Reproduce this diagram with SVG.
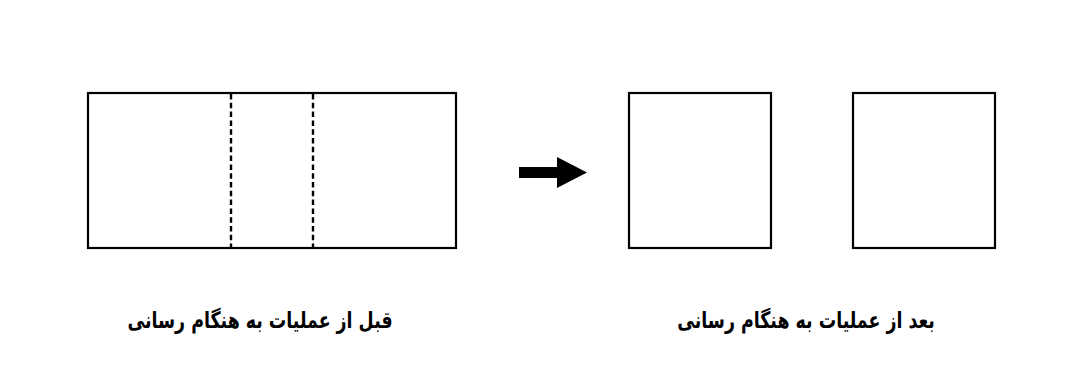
<svg xmlns="http://www.w3.org/2000/svg" width="1086" height="391" viewBox="0 0 1086 391">
<style>
.box{fill:none;stroke:#000;stroke-width:2.2}
.dash{stroke:#000;stroke-width:2.4;stroke-dasharray:5.5,3.3}
.lbl{font-family:"DejaVu Sans",sans-serif;font-weight:bold;font-size:17.4px;fill:#000;text-anchor:middle;direction:rtl}
</style>
<rect width="1086" height="391" fill="#fff"/>
<g id="before">
<rect class="box" x="88" y="93" width="368" height="155"/>
<line class="dash" x1="231" y1="94" x2="231" y2="248"/>
<line class="dash" x1="313" y1="94" x2="313" y2="248"/>
</g>
<g id="after1"><rect class="box" x="629" y="93" width="142" height="155"/></g>
<g id="after2"><rect class="box" x="853" y="93" width="142" height="155"/></g>
<g id="connectors">
<polygon points="519,167 557,167 557,157 587,172.5 557,188 557,178 519,178" fill="#000"/>
</g>
<g id="label-before"><text class="lbl" transform="translate(260,328) scale(1,1.3)" x="0" y="0">قبل از عملیات به هنگام رسانی</text></g>
<g id="label-after"><text class="lbl" transform="translate(806,328) scale(1,1.3)" x="0" y="0">بعد از عملیات به هنگام رسانی</text></g>
</svg>
